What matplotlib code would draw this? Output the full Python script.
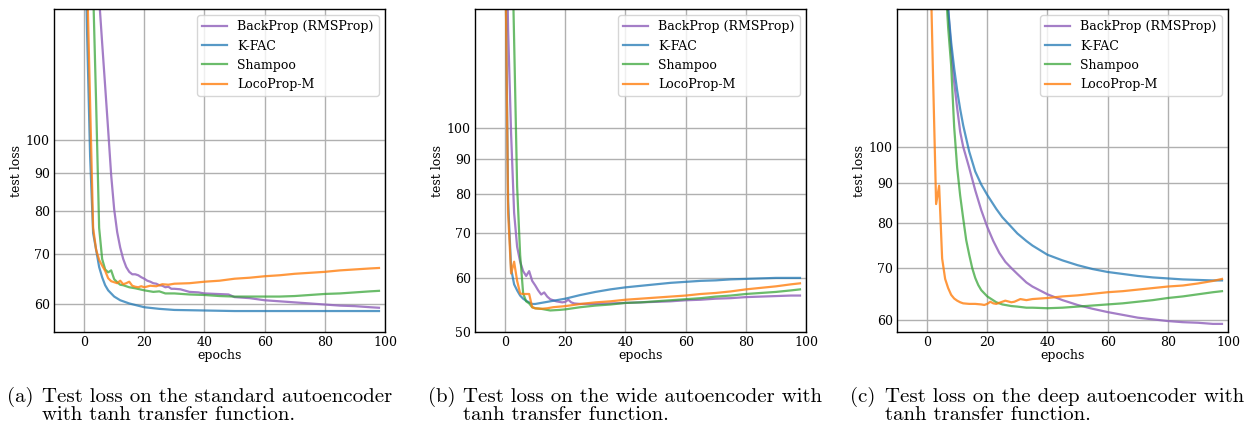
import matplotlib
matplotlib.use("Agg")
import matplotlib.pyplot as plt
from matplotlib.ticker import FixedLocator, NullLocator, ScalarFormatter

# ---- (a) standard autoencoder ----
std_bp_ep = [0, 1, 2, 3, 4, 5, 6, 7, 8, 9, 10, 11, 12, 13, 14, 15, 16, 17, 18, 19, 20, 21, 22, 23, 24, 25, 26, 27,
             28, 29, 30, 32, 35, 38, 40, 44, 48, 50, 55, 60, 65, 70, 75, 80, 85, 90, 95, 98]
std_bp = [500, 400, 320, 250, 190, 155, 135, 118, 103, 89.5, 80.5, 75, 71.5, 69, 67.3, 66.3, 65.8, 65.8, 65.6, 65.2,
          64.9, 64.5, 64.3, 64.0, 63.9, 63.6, 63.5, 63.2, 63.3, 62.9, 62.9, 62.8, 62.3, 62.2, 62.0, 61.9, 61.8, 61.3,
          61.1, 60.7, 60.5, 60.3, 60.1, 59.9, 59.7, 59.6, 59.4, 59.3]
std_kfac_ep = [0, 1, 2, 3, 4, 5, 6, 7, 8, 10, 12, 15, 20, 25, 30, 40, 50, 60, 70, 80, 90, 98]
std_kfac = [230, 139, 95, 74.8, 71, 67.3, 65.2, 63.6, 62.6, 61.4, 60.7, 60.1, 59.4, 59.1, 58.9, 58.8, 58.7, 58.7,
            58.7, 58.7, 58.7, 58.7]
std_sh_ep = [0, 1, 2, 3, 4, 5, 6, 7, 8, 9, 10, 11, 12, 13, 14, 15, 17, 20, 23, 25, 27, 30, 35, 40, 45, 50, 55, 60,
             65, 70, 75, 80, 85, 90, 95, 98]
std_sh = [400, 300, 210, 160, 112, 76, 69, 66.8, 66.2, 66.6, 64.8, 64.2, 63.7, 63.6, 63.4, 63.2, 63.0, 62.6, 62.3,
          62.4, 62.0, 62.0, 61.8, 61.7, 61.5, 61.4, 61.4, 61.4, 61.4, 61.5, 61.7, 61.9, 62.0, 62.2, 62.4, 62.5]
std_loco_ep = [0, 1, 2, 3, 4, 5, 6, 7, 8, 9, 10, 11, 12, 13, 14, 15, 16, 17, 18, 19, 20, 22, 24, 26, 28, 30, 35, 40,
               45, 50, 55, 60, 65, 70, 75, 80, 85, 90, 95, 98]
std_loco = [260, 165, 112, 76, 71, 68.8, 67.6, 66.5, 65.0, 64.4, 64.2, 64.0, 64.5, 63.8, 64.0, 64.3, 63.5, 63.3, 63.2,
            63.4, 63.2, 63.5, 63.4, 63.8, 63.7, 63.9, 64.0, 64.3, 64.5, 64.9, 65.1, 65.4, 65.6, 65.9, 66.1, 66.3, 66.6,
            66.8, 67.0, 67.1]

# ---- (b) wide autoencoder ----
wide_bp_ep = [0, 1, 2, 3, 4, 5, 6, 7, 8, 9, 10, 11, 12, 13, 14, 15, 16, 17, 18, 19, 20, 21, 22, 23, 25, 30, 35, 40,
              45, 50, 55, 60, 65, 70, 75, 80, 85, 90, 95, 98]
wide_bp = [250, 140, 98, 75, 66.8, 63.5, 61.5, 60.5, 61.5, 59.5, 58.6, 57.6, 56.8, 57.2, 56.4, 55.9, 55.7, 55.5, 55.4,
           55.3, 55.4, 55.8, 55.3, 55.1, 55.0, 55.0, 55.1, 55.2, 55.3, 55.4, 55.5, 55.7, 55.8, 56.0, 56.1, 56.3, 56.4,
           56.5, 56.6, 56.6]
wide_kfac_ep = [0, 1, 2, 3, 4, 5, 6, 7, 8, 9, 10, 12, 15, 20, 25, 30, 35, 40, 45, 50, 55, 60, 65, 70, 75, 80, 85, 90,
                95, 98]
wide_kfac = [200, 78, 62, 58.8, 57.6, 56.6, 56.0, 55.6, 55.3, 55.0, 55.0, 55.2, 55.5, 56.0, 56.7, 57.3, 57.8, 58.2,
             58.5, 58.8, 59.1, 59.3, 59.5, 59.6, 59.8, 59.9, 60.0, 60.1, 60.1, 60.1]
wide_sh_ep = [0, 1, 2, 3, 4, 5, 6, 7, 8, 9, 10, 12, 15, 18, 20, 25, 30, 35, 40, 45, 50, 55, 60, 65, 70, 75, 80, 85,
              90, 95, 98]
wide_sh = [600, 400, 220, 135, 82, 65, 57, 55.5, 55.1, 54.4, 54.2, 54.1, 53.8, 53.9, 54.0, 54.4, 54.7, 54.9, 55.2,
           55.3, 55.5, 55.7, 55.9, 56.1, 56.4, 56.6, 56.9, 57.1, 57.3, 57.6, 57.8]
wide_loco_ep = [0, 1, 2, 3, 4, 5, 6, 7, 8, 9, 10, 12, 14, 16, 18, 20, 25, 30, 35, 40, 45, 50, 55, 60, 65, 70, 75, 80,
                85, 90, 95, 98]
wide_loco = [200, 75, 61, 63.5, 59.5, 57.0, 56.9, 56.9, 56.9, 54.4, 54.2, 54.1, 54.2, 54.4, 54.5, 54.6, 55.0, 55.3,
             55.5, 55.8, 56.0, 56.2, 56.4, 56.6, 56.9, 57.1, 57.4, 57.8, 58.1, 58.4, 58.8, 59.0]

# ---- (c) deep autoencoder ----
deep_bp_ep = [0, 2, 4, 6, 7, 8, 9, 10, 11, 12, 14, 16, 18, 20, 22, 24, 26, 28, 30, 33, 35, 40, 45, 50, 55, 60, 65, 70,
              75, 80, 85, 90, 95, 98]
deep_bp = [400, 300, 215, 165, 150, 133, 121, 112, 104.5, 100, 94, 88, 83, 79, 75.8, 73.2, 71.3, 70.0, 68.8, 67.1,
           66.3, 64.8, 63.7, 62.8, 62.1, 61.5, 61.0, 60.5, 60.2, 59.9, 59.7, 59.6, 59.4, 59.4]
deep_kfac_ep = [0, 2, 4, 6, 7, 8, 9, 10, 11, 12, 14, 16, 18, 20, 23, 25, 28, 30, 33, 35, 40, 45, 50, 55, 60, 65, 70,
                75, 80, 85, 90, 95, 98]
deep_kfac = [400, 300, 220, 170, 150, 136, 126, 118, 111.7, 106.5, 98.6, 93, 89.5, 86.8, 83.3, 81.3, 79, 77.5, 75.8,
             74.8, 72.8, 71.6, 70.6, 69.8, 69.2, 68.8, 68.4, 68.1, 67.9, 67.7, 67.6, 67.5, 67.5]
deep_sh_ep = [0, 2, 4, 6, 7, 8, 9, 10, 11, 12, 13, 14, 15, 16, 17, 18, 20, 23, 25, 28, 30, 33, 35, 40, 45, 50, 55, 60,
              65, 70, 75, 80, 85, 90, 95, 98]
deep_sh = [400, 300, 210, 165, 142, 127, 106, 94, 86.6, 81, 76, 72.8, 70.0, 68.0, 66.6, 65.6, 64.4, 63.3, 62.9, 62.6,
           62.5, 62.3, 62.3, 62.2, 62.3, 62.5, 62.7, 62.9, 63.1, 63.4, 63.7, 64.1, 64.4, 64.8, 65.2, 65.4]
deep_loco_ep = [0, 1, 2, 3, 4, 5, 6, 7, 8, 9, 10, 11, 12, 14, 16, 18, 19, 20, 21, 22, 23, 25, 26, 28, 29, 31, 33, 35,
                40, 45, 50, 55, 60, 65, 70, 75, 80, 85, 90, 95, 98]
deep_loco = [260, 180, 122, 84.5, 89.2, 72, 67.8, 66, 64.7, 64.0, 63.6, 63.3, 63.1, 63.0, 63.0, 62.9, 62.8, 63.0,
             63.4, 63.1, 63.0, 63.4, 63.6, 63.3, 63.4, 63.9, 63.7, 63.9, 64.1, 64.4, 64.6, 64.9, 65.2, 65.4, 65.7, 66.0,
             66.3, 66.5, 66.9, 67.4, 67.8]

labels = ["BackProp (RMSProp)", "K-FAC", "Shampoo", "LocoProp-M"]
colors = ["tab:purple", "tab:blue", "tab:green", "tab:orange"]
alphas = [0.85, 0.75, 0.7, 0.8]

panels = [
    ([(std_bp_ep, std_bp), (std_kfac_ep, std_kfac), (std_sh_ep, std_sh), (std_loco_ep, std_loco)],
     (55, 150), [60, 70, 80, 90, 100], 54),
    ([(wide_bp_ep, wide_bp), (wide_kfac_ep, wide_kfac), (wide_sh_ep, wide_sh), (wide_loco_ep, wide_loco)],
     (50, 150), [50, 60, 70, 80, 90, 100], 475),
    ([(deep_bp_ep, deep_bp), (deep_kfac_ep, deep_kfac), (deep_sh_ep, deep_sh), (deep_loco_ep, deep_loco)],
     (58, 150), [60, 70, 80, 90, 100], 897),
]

captions = [
    ("(a)", "Test loss on the standard autoencoder", "with tanh transfer function."),
    ("(b)", "Test loss on the wide autoencoder with", "tanh transfer function."),
    ("(c)", "Test loss on the deep autoencoder with", "tanh transfer function."),
]
cap_x = [7, 428, 850]

plt.rcParams['font.family'] = 'DejaVu Serif'
W, H = 1244, 423
fig = plt.figure(figsize=(W / 100, H / 100), dpi=100)

for (series, ylim, yticks, left), cap, cx in zip(panels, captions, cap_x):
    ax = fig.add_axes([left / W, 1 - 332 / H, 331 / W, 323 / H])
    for (ep, loss), lab, c, a in zip(series, labels, colors, alphas):
        ax.plot(ep, loss, color=c, alpha=a, lw=1.6, label=lab)
    ax.set_yscale('log')
    ax.set_xlim(-10, 100)
    ax.set_ylim(*ylim)
    ax.yaxis.set_major_locator(FixedLocator(yticks))
    ax.yaxis.set_major_formatter(ScalarFormatter())
    ax.yaxis.set_minor_locator(NullLocator())
    ax.set_xticks([0, 20, 40, 60, 80, 100])
    ax.grid(True, color='#b0b0b0', lw=1.0)
    ax.set_axisbelow(True)
    ax.tick_params(labelsize=9, length=0, pad=3)
    ax.set_xlabel('epochs', fontsize=9, labelpad=0)
    ax.set_ylabel('test loss', fontsize=9, labelpad=2)
    for s in ax.spines.values():
        s.set_color('black')
        s.set_linewidth(1.0)
    ax.legend(loc='upper right', fontsize=9, framealpha=0.8, edgecolor='#cccccc')

    fig.text(cx / W, 1 - 397 / H, cap[0], family='cmr10', fontsize=15, va='center')
    fig.text((cx + 35) / W, 1 - 397 / H, cap[1], family='cmr10', fontsize=15, va='center')
    fig.text((cx + 35) / W, 1 - 415 / H, cap[2], family='cmr10', fontsize=15, va='center')

fig.savefig('out.png', dpi=100)
